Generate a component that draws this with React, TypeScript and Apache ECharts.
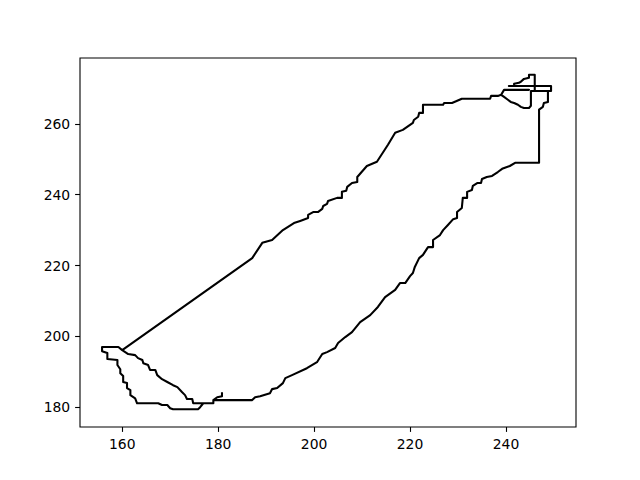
import { useEffect, useRef } from 'react';
import * as echarts from 'echarts';

// path traced point by point (x, y)
const pathX = [
  180.8, 180.8, 179.8, 179.0, 179.0, 174.8, 174.6, 173.5, 173.1, 172.5,
  171.5, 170.6, 169.4, 168.3, 167.3, 166.9, 165.8, 165.4, 164.4, 164.2,
  163.3, 162.7, 161.25, 160.0, 159.2, 155.8, 155.8, 156.9, 156.9, 159.0,
  159.0, 159.6, 159.6, 160.2, 160.2, 161.0, 161.0, 161.7, 161.7, 162.7,
  163.1, 167.5, 168.3, 169.4, 170.0, 170.6, 175.8, 176.25, 176.9, 179.0,
  179.0, 187.1, 187.7, 188.75, 190.8, 191.25, 192.3, 193.5, 194.0, 195.4,
  198.5, 200.6, 201.7, 202.7, 204.4, 205.0, 206.5, 207.9, 209.6, 211.7,
  213.3, 214.8, 216.9, 217.9, 219.0, 220.0, 220.6, 221.0, 221.9, 222.7,
  223.75, 224.8, 224.8, 226.25, 226.9, 227.9, 229.0, 229.8, 229.8, 230.8,
  231.0, 231.9, 231.9, 232.9, 233.1, 234.0, 234.8, 235.0, 236.0, 237.1,
  238.3, 239.2, 240.8, 241.9, 246.9, 246.9, 247.7, 247.9, 248.75, 248.75,
  249.4, 249.4, 240.6, 241.7, 241.7, 242.7, 243.1, 243.75, 244.8, 244.8,
  246.0, 246.0, 248.75, 245.2, 245.2, 244.8, 243.75, 243.1, 242.5, 241.7,
  241.0, 240.4, 239.6, 239.0, 239.6, 244.8, 239.6, 239.0, 238.3, 236.9,
  236.7, 230.8, 228.75, 227.1, 226.9, 222.7, 222.7, 221.9, 221.7, 220.8,
  220.6, 218.5, 216.9, 215.4, 213.1, 211.0, 209.0, 209.0, 207.9, 206.9,
  206.7, 205.8, 205.8, 204.8, 202.9, 202.7, 201.9, 201.7, 200.8, 199.8,
  198.75, 198.75, 197.1, 195.8, 193.5, 191.25, 189.2, 187.1, 160.0,
];

const pathY = [
  184.2, 183.1, 182.8, 182.0, 181.1, 181.1, 182.3, 182.3, 183.4, 184.2,
  185.65, 186.2, 187.1, 187.9, 189.05, 190.5, 190.5, 191.9, 192.4, 193.3,
  193.85, 194.7, 195.0, 196.1, 197.0, 197.0, 195.8, 195.3, 193.6, 193.3,
  191.9, 190.7, 189.6, 188.8, 187.1, 186.8, 185.4, 184.8, 183.4, 182.5,
  181.1, 181.1, 180.6, 180.6, 179.7, 179.4, 179.4, 180.0, 181.1, 181.1,
  182.0, 182.0, 182.8, 183.1, 183.96, 185.1, 185.4, 186.8, 188.2, 189.05,
  191.0, 192.7, 195.0, 195.55, 196.7, 198.1, 199.8, 201.2, 204.0, 206.0,
  208.3, 211.1, 213.1, 215.05, 215.05, 217.0, 217.9, 219.6, 222.1, 223.0,
  225.2, 225.2, 227.2, 228.6, 230.0, 231.45, 233.1, 233.4, 235.1, 236.25,
  239.1, 239.1, 240.8, 241.3, 242.5, 243.3, 243.3, 244.45, 245.0, 245.3,
  246.4, 247.3, 248.1, 249.0, 249.0, 264.0, 264.8, 265.9, 266.2, 269.3,
  269.3, 270.7, 270.7, 270.7, 271.3, 271.6, 271.9, 272.7, 273.0, 273.85,
  273.85, 269.3, 269.3, 269.3, 265.1, 264.5, 264.5, 264.8, 265.4, 265.9,
  266.2, 266.8, 267.6, 268.2, 269.6, 269.6, 269.6, 268.2, 267.9, 267.9,
  267.1, 267.1, 265.9, 265.9, 265.4, 265.4, 263.1, 263.1, 262.0, 261.1,
  260.3, 258.3, 257.5, 254.1, 249.3, 248.1, 245.0, 243.6, 243.3, 242.2,
  241.1, 240.8, 239.1, 239.1, 238.2, 237.4, 236.8, 236.0, 235.1, 235.1,
  234.3, 233.4, 232.6, 232.0, 230.0, 227.2, 226.4, 222.1, 196.1,
];

const xTicks = [160, 180, 200, 220, 240];
const yTicks = [180, 200, 220, 240, 260];

const FONT = 'DejaVu Sans';

export default function App() {
  const chartRef = useRef<HTMLDivElement>(null);

  useEffect(() => {
    if (!chartRef.current) return;
    const chart = echarts.init(chartRef.current, undefined, { renderer: 'svg' });

    const axisCommon = {
      type: 'value' as const,
      axisLine: { show: false },
      splitLine: { show: false },
      axisTick: {
        show: true,
        length: 4.9,
        lineStyle: { color: '#000', width: 1.1 },
      },
      axisLabel: {
        color: '#000',
        fontFamily: FONT,
        fontSize: 13.9,
        margin: 9.8,
      },
    };

    chart.setOption({
      animation: false,
      backgroundColor: '#fff',
      grid: {
        left: 80,
        right: 64,
        top: 58,
        bottom: 53,
        show: true,
        borderColor: '#000',
        borderWidth: 1.1,
        backgroundColor: 'transparent',
      },
      xAxis: {
        ...axisCommon,
        min: 151.2,
        max: 254.6,
        axisTick: { ...axisCommon.axisTick, customValues: xTicks },
        axisLabel: { ...axisCommon.axisLabel, customValues: xTicks },
      },
      yAxis: {
        ...axisCommon,
        min: 174.4,
        max: 278.6,
        axisTick: { ...axisCommon.axisTick, customValues: yTicks },
        axisLabel: { ...axisCommon.axisLabel, customValues: yTicks },
      },
      series: [
        {
          type: 'line',
          data: pathX.map((x, i) => [x, pathY[i]]),
          showSymbol: false,
          symbol: 'none',
          lineStyle: { color: '#000', width: 2.08, join: 'round' },
        },
      ],
    });

    return () => chart.dispose();
  }, []);

  return (
    <div
      ref={chartRef}
      style={{ position: 'fixed', left: 0, top: 0, width: 640, height: 480 }}
    />
  );
}
